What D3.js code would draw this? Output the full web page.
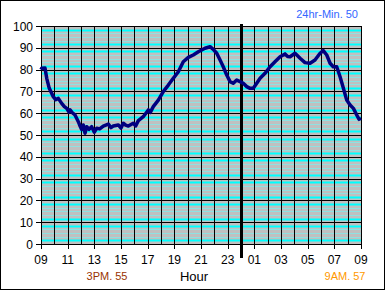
<!DOCTYPE html>
<html>
<head>
<meta charset="utf-8">
<script src="https://cdn.jsdelivr.net/npm/d3@7"></script>
<style>
  body { margin: 0; background: #fff; }
  text { font-family: Arial, "Liberation Sans", sans-serif; }
</style>
</head>
<body>
<div id="chart"></div>
<script>
// hours elapsed since 09:00, and temperature readings
const hours = [0, 0.05, 0.3, 0.43, 0.62, 0.92, 1.1, 1.3, 1.55, 1.75, 1.93, 2.1, 2.18, 2.35, 2.55, 2.8, 2.93, 3.05, 3.17, 3.3, 3.43, 3.6, 3.8, 4.0, 4.18, 4.4, 4.67, 5.05, 5.25, 5.42, 5.8, 6.0, 6.17, 6.35, 6.55, 6.92, 7.1, 7.3, 7.67, 8.05, 8.2, 8.42, 8.8, 9.17, 9.55, 9.92, 10.3, 10.67, 11.05, 11.42, 11.8, 12.3, 12.68, 12.92, 13.18, 13.43, 13.67, 13.93, 14.18, 14.42, 14.68, 14.93, 15.17, 15.43, 15.68, 15.92, 16.18, 16.43, 16.8, 17.18, 17.55, 17.93, 18.3, 18.5, 18.68, 19.05, 19.43, 19.8, 20.18, 20.55, 20.93, 21.17, 21.43, 21.68, 21.92, 22.18, 22.43, 22.68, 22.93, 23.18, 23.43, 23.68, 23.85, 24];
const temps = [80, 80.6, 80.7, 76, 71.4, 67.6, 66.2, 66.8, 64.5, 63, 62.2, 60.5, 61.5, 60.2, 59.2, 56.1, 54.1, 52.5, 54.6, 50.8, 53.8, 52.6, 53.8, 51.3, 53.1, 52.8, 54.1, 55, 53.4, 54.1, 54.6, 53.2, 55.4, 54.5, 54.1, 55.4, 54.2, 56.6, 58.4, 61.5, 60.4, 63, 66, 69.9, 72.9, 76, 79, 83.6, 85.6, 86.7, 88.2, 89.8, 90.5, 89.3, 87.5, 84.4, 81.3, 77.5, 74.5, 73.7, 75.2, 74.5, 73.7, 72.2, 71.4, 71.4, 73.7, 76, 78.3, 81.3, 83.6, 85.9, 87.2, 86, 85.9, 87.5, 85.2, 83.2, 82.9, 84.4, 87.5, 88.7, 86.7, 82.9, 81.3, 81.3, 76.7, 71.4, 66, 63.8, 62.2, 59.2, 57.2, 57.7];
const tickHours = [0, 2, 4, 6, 8, 10, 12, 14, 16, 18, 20, 22, 24];
const tickLabels = ["09", "11", "13", "15", "17", "19", "21", "23", "01", "03", "05", "07", "09"];
const yTicks = [0, 10, 20, 30, 40, 50, 60, 70, 80, 90, 100];
const midnight = 15;

const width = 385, height = 290;
const x = d3.scaleLinear().domain([0, 24]).range([41, 361]);
const y = d3.scaleLinear().domain([0, 100]).range([244, 26]);

const svg = d3.select("#chart").append("svg")
  .attr("width", width)
  .attr("height", height);

svg.append("rect")
  .attr("x", 0.5).attr("y", 0.5)
  .attr("width", width - 1).attr("height", height - 1)
  .attr("fill", "#fff").attr("stroke", "#000");

// plot area
svg.append("rect")
  .attr("x", x(0)).attr("y", y(100))
  .attr("width", x(24) - x(0)).attr("height", y(0) - y(100))
  .attr("fill", "#c0c0c0");

// minor gridlines (cyan)
const minor = [];
yTicks.slice(0, -1).forEach(t => {
  for (let k = 1; k < 6; k++) minor.push({ v: t + k * 10 / 6, k: k });
});
svg.append("g")
  .selectAll("line")
  .data(minor)
  .join("line")
  .attr("x1", x(0)).attr("x2", x(24))
  .attr("y1", d => Math.round(y(d.v)) + 0.5)
  .attr("y2", d => Math.round(y(d.v)) + 0.5)
  .attr("stroke", d => (d.k == 1 || d.k == 5) ? "#00ffff" : "#8ee2e2")
  .attr("stroke-width", d => (d.k == 1 || d.k == 5) ? 2 : 1);

// major gridlines
svg.append("g")
  .selectAll("line")
  .data(yTicks)
  .join("line")
  .attr("x1", x(0) - 5).attr("x2", x(24))
  .attr("y1", d => Math.round(y(d)) + 0.5)
  .attr("y2", d => Math.round(y(d)) + 0.5)
  .attr("stroke", "#000");

svg.append("g")
  .selectAll("line")
  .data(d3.range(0, 25))
  .join("line")
  .attr("x1", d => Math.round(x(d)) + 0.5)
  .attr("x2", d => Math.round(x(d)) + 0.5)
  .attr("y1", y(100))
  .attr("y2", d => d % 2 == 0 ? y(0) + 5 : y(0))
  .attr("stroke", "#000");

// midnight marker
svg.append("line")
  .attr("x1", x(midnight) + 0.5).attr("x2", x(midnight) + 0.5)
  .attr("y1", y(100) - 2).attr("y2", y(0) + 14)
  .attr("stroke", "#000").attr("stroke-width", 3);

// y labels
svg.append("g")
  .attr("font-size", 12)
  .attr("text-anchor", "end")
  .selectAll("text")
  .data(yTicks)
  .join("text")
  .attr("x", 33)
  .attr("y", d => y(d) + 4.5)
  .text(d => d);

// x labels
svg.append("g")
  .attr("font-size", 12)
  .attr("text-anchor", "middle")
  .selectAll("text")
  .data(tickHours)
  .join("text")
  .attr("x", d => x(d))
  .attr("y", 264)
  .text((d, i) => tickLabels[i]);

// temperature line
const line = d3.line()
  .x((d, i) => x(hours[i]))
  .y(d => y(d));

svg.append("path")
  .datum(temps)
  .attr("fill", "none")
  .attr("stroke", "#000080")
  .attr("stroke-width", 3.5)
  .attr("stroke-linejoin", "round")
  .attr("d", line);

svg.append("text")
  .attr("x", 194).attr("y", 281)
  .attr("font-size", 13)
  .attr("text-anchor", "middle")
  .text("Hour");

svg.append("text")
  .attr("x", 107).attr("y", 280)
  .attr("font-size", 11)
  .attr("text-anchor", "middle")
  .attr("fill", "#993300")
  .text("3PM. 55");

svg.append("text")
  .attr("x", 345).attr("y", 280)
  .attr("font-size", 11)
  .attr("text-anchor", "middle")
  .attr("fill", "#ff9900")
  .text("9AM. 57");

svg.append("text")
  .attr("x", 358).attr("y", 18)
  .attr("font-size", 11)
  .attr("text-anchor", "end")
  .attr("fill", "#3366ff")
  .text("24hr-Min. 50");
</script>
</body>
</html>
